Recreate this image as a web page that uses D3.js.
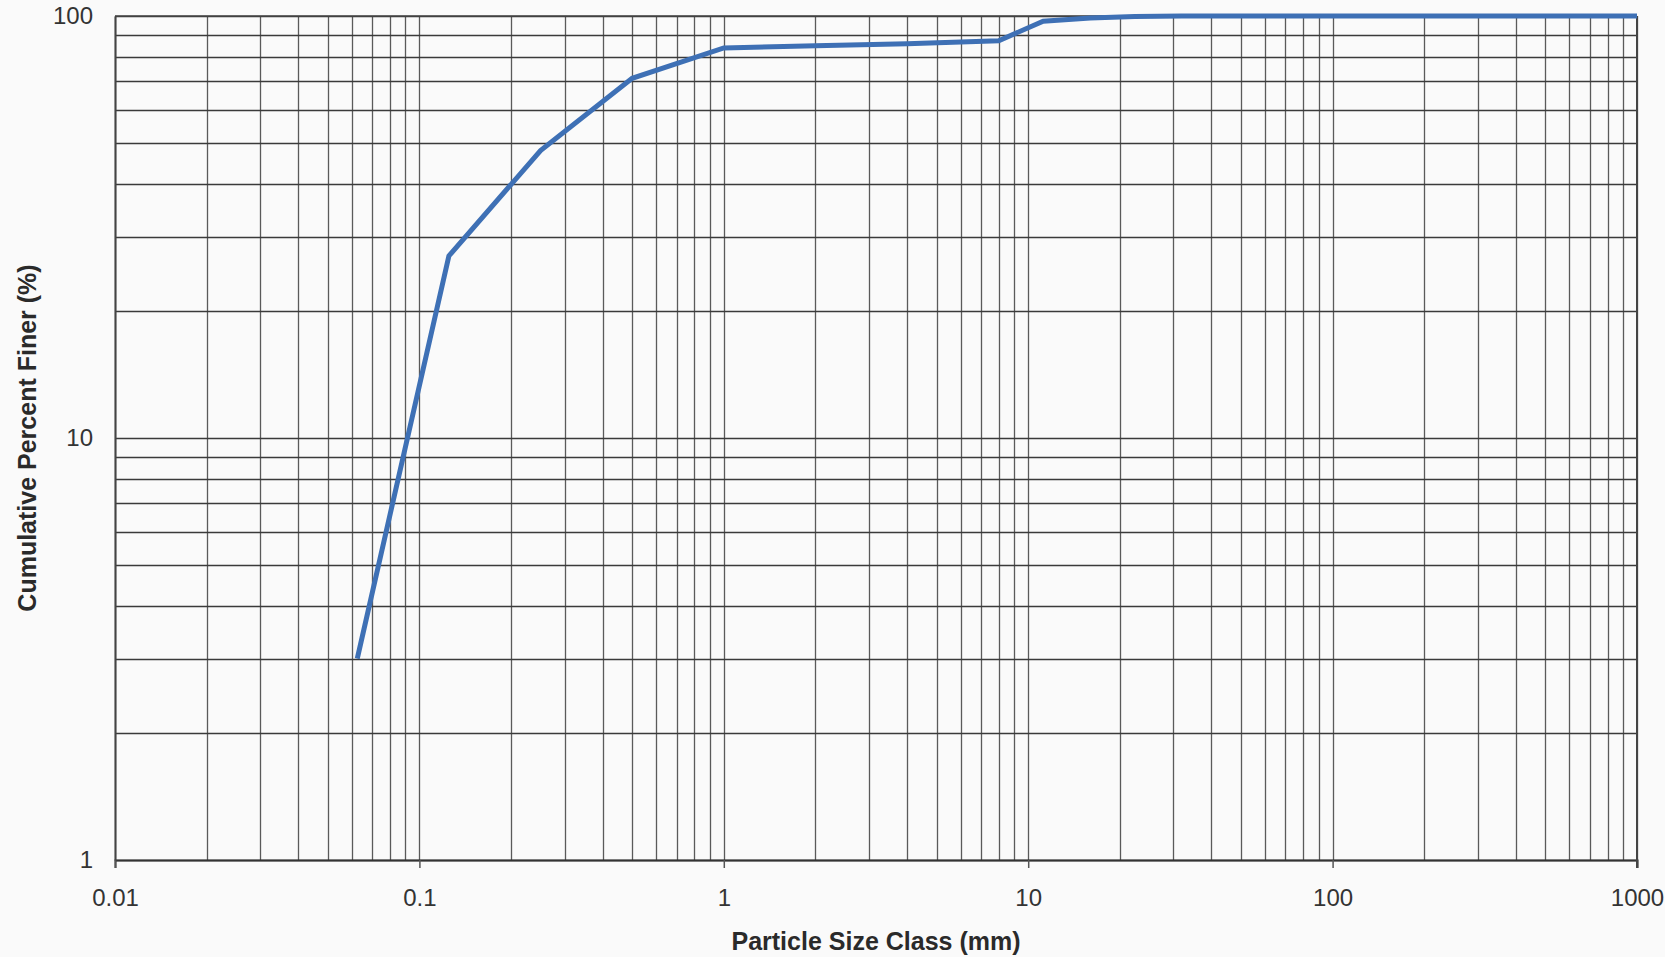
<!DOCTYPE html>
<html>
<head>
<meta charset="utf-8">
<script src="https://cdn.jsdelivr.net/npm/d3@7"></script>
<style>
html, body { margin: 0; padding: 0; background: #ffffff; }
svg { display: block; }
</style>
</head>
<body>
<svg id="chart" width="1680" height="971"></svg>
<script>
// Data
const sizes = [0.0625, 0.125, 0.25, 0.5, 1, 2, 4, 8, 11.2, 16, 22.4, 32, 64, 128, 256, 512, 1000];
const percentFiner = [3.0, 27, 48, 71.2, 84, 85, 86, 87.4, 97.2, 98.9, 99.7, 100, 100, 100, 100, 100, 100];
const xTickValues = [0.01, 0.1, 1, 10, 100, 1000];
const xTickLabels = ["0.01", "0.1", "1", "10", "100", "1000"];
const yTickValues = [1, 10, 100];
const yTickLabels = ["1", "10", "100"];
const xTitle = "Particle Size Class (mm)";
const yTitle = "Cumulative Percent Finer (%)";

const svg = d3.select("#chart");
const m = { left: 115, right: 1637, top: 16, bottom: 860 };

svg.append("rect").attr("x", 0).attr("y", 0).attr("width", 1665).attr("height", 957).attr("fill", "#fafafa");

const x = d3.scaleLog().domain([0.01, 1000]).range([m.left, m.right]);
const y = d3.scaleLog().domain([1, 100]).range([m.bottom, m.top]);

// grid values: 1..9 per decade
const xGrid = [];
for (let e = -2; e < 3; e++) for (let k = 1; k <= 9; k++) xGrid.push(k * Math.pow(10, e));
xGrid.push(1000);
const yGrid = [];
for (let e = 0; e < 2; e++) for (let k = 1; k <= 9; k++) yGrid.push(k * Math.pow(10, e));
yGrid.push(100);

const g = svg.append("g");
g.selectAll("line.vg").data(xGrid).join("line")
  .attr("class", "vg")
  .attr("x1", d => Math.round(x(d)) + 0.5).attr("x2", d => Math.round(x(d)) + 0.5)
  .attr("y1", m.top).attr("y2", m.bottom)
  .attr("stroke", "#5a5a5a").attr("stroke-width", 1.3);
g.selectAll("line.hg").data(yGrid).join("line")
  .attr("class", "hg")
  .attr("y1", d => Math.round(y(d)) + 0.5).attr("y2", d => Math.round(y(d)) + 0.5)
  .attr("x1", m.left).attr("x2", m.right)
  .attr("stroke", "#3a3a3a").attr("stroke-width", 1.4);

const fontFam = "Liberation Sans, Arial, sans-serif";

// Axes (via d3 axis)
const xAxis = d3.axisBottom(x).tickValues(xTickValues).tickFormat((d, i) => xTickLabels[i]).tickSize(8).tickPadding(21);
const gx = svg.append("g").attr("transform", `translate(0,${m.bottom})`).call(xAxis);
gx.select(".domain").attr("stroke", "#333").attr("stroke-width", 2);
gx.selectAll(".tick line").attr("stroke", "#555").attr("stroke-width", 1.5);
gx.selectAll(".tick text").attr("font-family", fontFam).attr("font-size", 24).attr("fill", "#333");

const yAxis = d3.axisLeft(y).tickValues(yTickValues).tickFormat((d, i) => yTickLabels[i]).tickSize(0).tickPadding(22);
const gy = svg.append("g").attr("transform", `translate(${m.left},0)`).call(yAxis);
gy.select(".domain").attr("stroke", "#444").attr("stroke-width", 2);
gy.selectAll(".tick text").attr("font-family", fontFam).attr("font-size", 24).attr("fill", "#333");

// right and top border
svg.append("line").attr("x1", m.right).attr("x2", m.right).attr("y1", m.top).attr("y2", m.bottom + 8)
  .attr("stroke", "#444").attr("stroke-width", 2);
svg.append("line").attr("x1", m.left).attr("x2", m.right).attr("y1", m.top).attr("y2", m.top)
  .attr("stroke", "#444").attr("stroke-width", 1.5);

// data line
const line = d3.line().x(d => x(d[0])).y(d => y(d[1]));
svg.append("path")
  .datum(sizes.map((s, i) => [s, percentFiner[i]]))
  .attr("d", line)
  .attr("fill", "none")
  .attr("stroke", "#3e70b5")
  .attr("stroke-width", 5)
  .attr("stroke-linejoin", "miter");

// titles
svg.append("text").attr("x", (m.left + m.right) / 2).attr("y", 950)
  .attr("text-anchor", "middle")
  .attr("font-family", fontFam).attr("font-weight", "bold").attr("font-size", 25)
  .attr("fill", "#2a2a2a").text(xTitle);
svg.append("text")
  .attr("transform", `translate(36,${(m.top + m.bottom) / 2}) rotate(-90)`)
  .attr("text-anchor", "middle")
  .attr("font-family", fontFam).attr("font-weight", "bold").attr("font-size", 25)
  .attr("fill", "#2a2a2a").text(yTitle);
</script>
</body>
</html>
